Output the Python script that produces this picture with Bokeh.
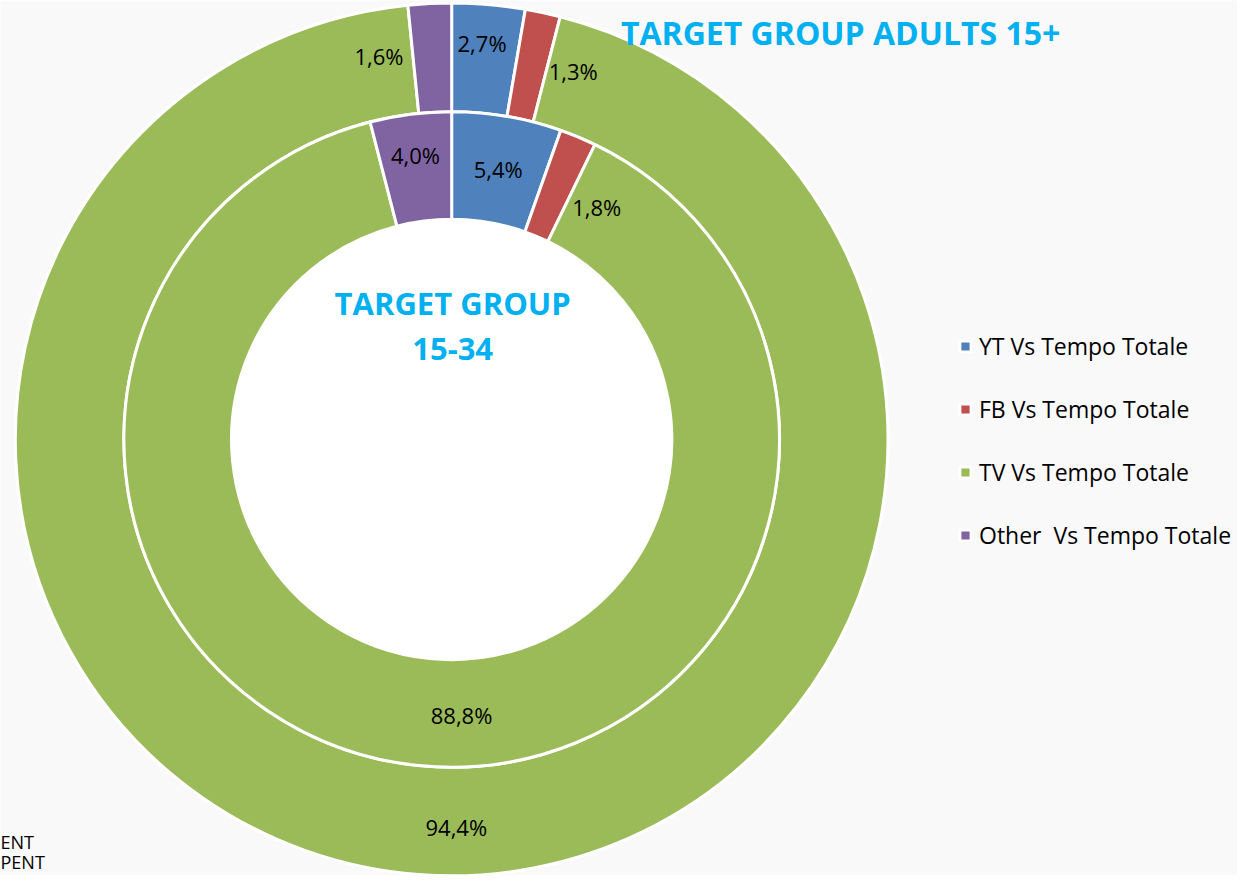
import math
from bokeh.plotting import figure
from bokeh.models import Range1d, Legend, LegendItem, ColumnDataSource
from bokeh.core.properties import value
from bokeh.embed import file_html
from bokeh.resources import INLINE

# ---------------- data ----------------
categories = ["YT Vs Tempo Totale", "FB Vs Tempo Totale", "TV Vs Tempo Totale", "Other  Vs Tempo Totale"]
adults_15plus = [2.7, 1.3, 94.4, 1.6]      # outer ring
group_15_34 = [5.4, 1.8, 88.8, 4.0]        # inner ring
colors = ["#4F81BD", "#C0504D", "#9BBB59", "#8064A2"]
title_outer = "TARGET GROUP ADULTS 15+"
title_inner = ["TARGET GROUP", "15-34"]
fragments = ["ENT", "PENT"]

# ---------------- layout (reference pixel space; y measured upward) ----------------
W, H = 1237, 875
RW, RH = 1253, 891
def fy(py):
    return RH - py

CX, CY = 457, fy(447)
R_HOLE, R_MID, R_OUT = 223, 332, 442

# label nudges (degrees clockwise from slice middle) and radii
outer_lab_shift = [-0.5, 6.1, -5.0, -7.8]
outer_lab_r = [405, 395, 395, 397]
inner_lab_shift = [0.0, 9.1, -7.8, 0.0]
inner_lab_r = [279, 279, 281, 292]

p = figure(width=W, height=H, output_backend="svg", toolbar_location=None,
           x_range=Range1d(0, RW), y_range=Range1d(0, RH),
           min_border=0)
p.axis.visible = False
p.grid.visible = False
p.outline_line_color = None
p.background_fill_color = "#f9f9f9"
p.border_fill_color = "#f9f9f9"


def ring(vals, r_in, r_out):
    total = float(sum(vals))
    starts, ends, mids = [], [], []
    cum = 0.0
    for v in vals:
        a0 = cum / total
        cum += v
        a1 = cum / total
        starts.append(math.pi / 2 - 2 * math.pi * a0)
        ends.append(math.pi / 2 - 2 * math.pi * a1)
        mids.append(360.0 * (a0 + a1) / 2)
    src = ColumnDataSource(dict(x=[CX] * len(vals), y=[CY] * len(vals),
                                start=starts, end=ends, color=colors,
                                cat=categories))
    r = p.annular_wedge(x="x", y="y", inner_radius=r_in, outer_radius=r_out,
                        start_angle="start", end_angle="end", direction="clock",
                        fill_color="color", line_color="white", line_width=3,
                        source=src)
    return r, mids


r_outer, mids_outer = ring(adults_15plus, R_MID, R_OUT)
r_inner, mids_inner = ring(group_15_34, R_HOLE, R_MID)

# white hole
p.circle(x=[CX], y=[CY], radius=R_HOLE - 1.5, fill_color="white", line_color=None)


def fmt(v):
    return ("%.1f" % v).replace(".", ",") + "%"


def labels(vals, mids, shifts, radii):
    xs, ys, ts = [], [], []
    for v, m, s, r in zip(vals, mids, shifts, radii):
        a = math.radians(m + s)
        xs.append(CX + r * math.sin(a))
        ys.append(CY + r * math.cos(a))
        ts.append(fmt(v))
    p.text(x=xs, y=ys, text=ts, text_align="center", text_baseline="middle",
           text_font=value("Open Sans"), text_font_size="22px", text_color="#000000")


labels(adults_15plus, mids_outer, outer_lab_shift, outer_lab_r)
labels(group_15_34, mids_inner, inner_lab_shift, inner_lab_r)

# titles
p.text(x=[851], y=[fy(33)], text=[title_outer], text_align="center", text_baseline="middle",
       text_font=value("Open Sans"), text_font_style="bold", text_font_size="32px",
       text_color="#00B0F0")
p.text(x=[CX + 1, CX + 1], y=[fy(308), fy(355)], text=title_inner, text_align="center",
       text_baseline="middle", text_font=value("Open Sans"), text_font_style="bold",
       text_font_size="31px", text_color="#00B0F0")

# background slide fragments at bottom-left
p.text(x=[0, 0], y=[fy(857), fy(877)], text=fragments, text_align="left",
       text_baseline="middle", text_font=value("Open Sans"), text_font_size="18px",
       text_color="#000000")

# legend
items = [LegendItem(label=c, renderers=[r_outer], index=i) for i, c in enumerate(categories)]
legend = Legend(items=items, location=(958, 875 - 551), orientation="vertical",
                glyph_width=14, glyph_height=14, label_standoff=7,
                label_height=30, spacing=31, padding=0, margin=0,
                label_text_font="Open Sans", label_text_font_size="23px",
                label_text_color="#000000",
                background_fill_alpha=0, border_line_color=None)
p.add_layout(legend, "center")

open("out.html", "w").write(file_html(p, INLINE))
